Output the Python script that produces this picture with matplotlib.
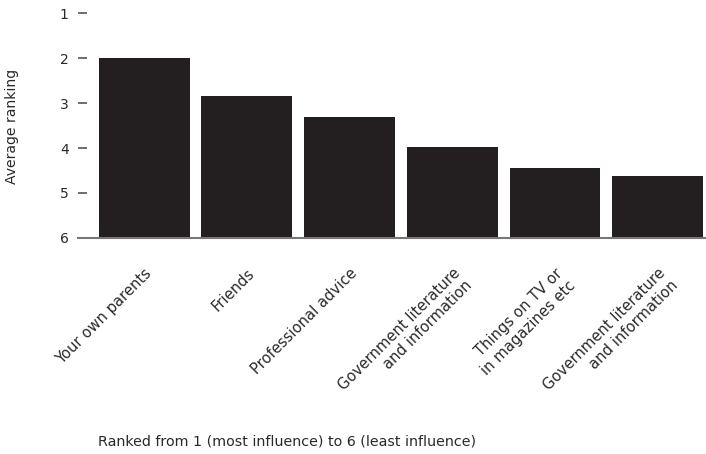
import numpy as np
import matplotlib
matplotlib.use('Agg')
import matplotlib.pyplot as plt

plt.rcParams['font.family'] = ['DejaVu Sans']

categories = ['Your own parents', 'Friends', 'Professional advice',
              'Government literature\nand information',
              'Things on TV or\nin magazines etc',
              'Government literature\nand information']
rankings = [2.0, 2.84, 3.31, 3.97, 4.44, 4.63]
yticks = [1, 2, 3, 4, 5, 6]

ink = '#231f20'
txt = '#2b2829'

fig = plt.figure(figsize=(7.06, 4.54), dpi=100)
ax = fig.add_axes([0.110, 0.476, 0.890, 0.495])

x = np.arange(len(categories))
vals = np.array(rankings)
# bars start at the bottom rank (6) and grow up to the value
ax.bar(x, vals - 6, bottom=6, width=0.885, color=ink)

ax.set_ylim(6, 1)
ax.set_xlim(-0.648, 5.47)
ax.set_yticks(yticks)
ax.tick_params(axis='y', direction='in', length=6.5, width=1.2, color='#555555',
               pad=6.5, labelsize=10, labelcolor=txt)
ax.set_xticks(x)
ax.set_xticklabels(categories, rotation=45, ha='right', va='top',
                   rotation_mode='anchor', multialignment='right',
                   fontsize=10.6, color=txt)
ax.tick_params(axis='x', length=0, pad=20)

for s in ['left', 'top', 'right']:
    ax.spines[s].set_visible(False)
ax.spines['bottom'].set_color('#777777')
ax.spines['bottom'].set_linewidth(1.5)

fig.text(0.017, 0.722, 'Average ranking', rotation=90, ha='center', va='center',
         fontsize=10.1, color=txt)
fig.text(0.139, 0.028, 'Ranked from 1 (most influence) to 6 (least influence)',
         ha='left', va='center', fontsize=10.3, color=txt)

fig.savefig('out.png', dpi=100)
